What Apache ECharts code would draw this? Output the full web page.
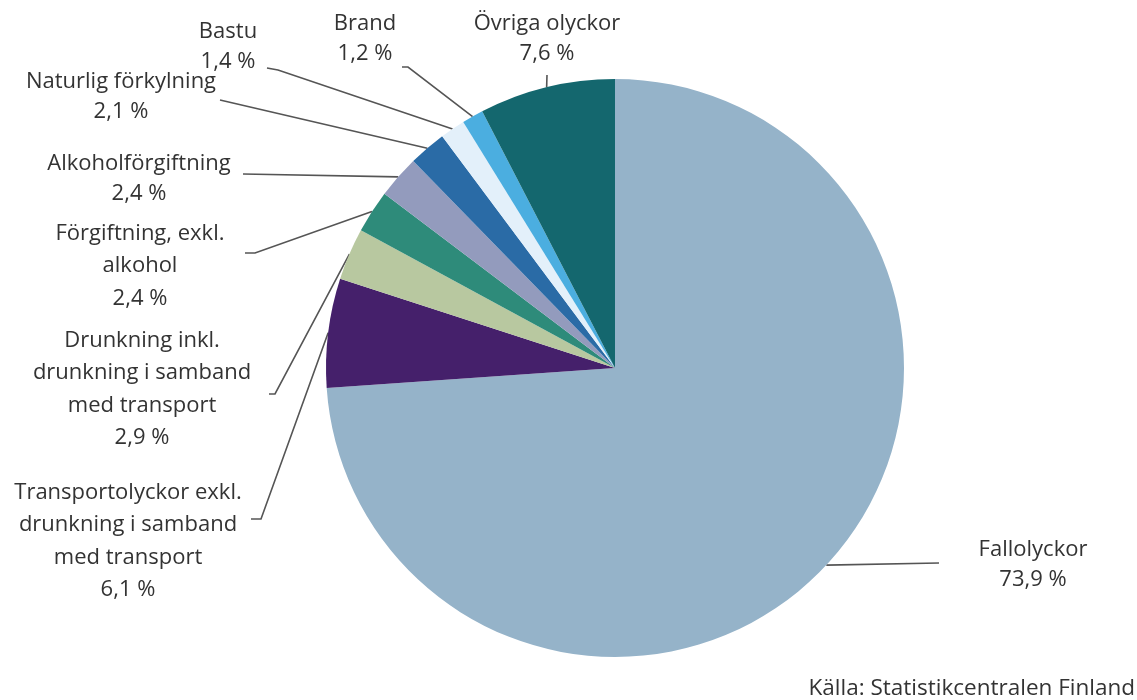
<!DOCTYPE html>
<html>
<head>
<meta charset="utf-8">
<script src="https://cdn.jsdelivr.net/npm/echarts@6/dist/echarts.min.js"></script>
<style>
  html, body { margin: 0; padding: 0; background: #fff; }
  #chart { width: 1137px; height: 700px; }
</style>
</head>
<body>
<div id="chart"></div>
<script>
// categories and shares (%)
const categories = [
  "Fallolyckor",
  "Transportolyckor exkl.\ndrunkning i samband\nmed transport",
  "Drunkning inkl.\ndrunkning i samband\nmed transport",
  "Förgiftning, exkl.\nalkohol",
  "Alkoholförgiftning",
  "Naturlig förkylning",
  "Bastu",
  "Brand",
  "Övriga olyckor"
];
const shares = [73.9, 6.1, 2.9, 2.4, 2.4, 2.1, 1.4, 1.2, 7.6];

const colors = ["#95b3c9", "#45206b", "#b8c8a0", "#2e8b7a", "#939bbd",
  "#2a6ba6", "#e3f0fa", "#4baee0", "#14676e"];

// label centres and the leader-line points after the slice edge
const labelPos = [
  { x: 1033, y: 565, pts: [[939, 563]] },
  { x: 128, y: 541, pts: [[261, 519], [251, 519]] },
  { x: 142, y: 389, pts: [[275, 394], [269, 394]] },
  { x: 140, y: 266, pts: [[255, 253], [245, 253]] },
  { x: 139, y: 179, pts: [[243, 174]] },
  { x: 121, y: 97, pts: [[220, 100]] },
  { x: 228, y: 47, pts: [[278, 70], [267, 68]] },
  { x: 365, y: 39, pts: [[408, 67], [402, 67]] },
  { x: 547, y: 39, pts: [[547, 75]] }
];

const fmt = v => v.toFixed(1).replace(".", ",") + " %";
const FONT = "Open Sans";

const chart = echarts.init(document.getElementById("chart"));
chart.setOption({
  animation: false,
  color: colors,
  textStyle: { fontFamily: FONT },
  graphic: [{
    type: "text",
    right: 2,
    bottom: 0,
    style: {
      text: "Källa: Statistikcentralen Finland",
      fontFamily: FONT,
      fontSize: 22.5,
      fill: "#333"
    }
  }],
  series: [{
    type: "pie",
    center: [615, 368],
    radius: 289,
    startAngle: 90,
    clockwise: true,
    avoidLabelOverlap: false,
    data: categories.map((c, i) => ({
      name: c,
      value: shares[i],
      label: { lineHeight: c.split("\n").length > 1 ? 32.5 : 30 }
    })),
    itemStyle: { borderWidth: 0 },
    label: {
      show: true,
      position: "outside",
      formatter: p => p.name + "\n" + fmt(p.value),
      fontFamily: FONT,
      fontSize: 22,
      lineHeight: 30,
      color: "#333",
      align: "center"
    },
    labelLine: {
      show: true,
      length: 10,
      length2: 10,
      lineStyle: { color: "#555", width: 1.6 }
    },
    labelLayout: function (params) {
      const cfg = labelPos[params.dataIndex];
      const start = params.labelLinePoints ? params.labelLinePoints[0] : cfg.pts[0];
      return {
        x: cfg.x,
        y: cfg.y,
        align: "center",
        verticalAlign: "middle",
        labelLinePoints: [start].concat(cfg.pts)
      };
    }
  }]
});
</script>
</body>
</html>
